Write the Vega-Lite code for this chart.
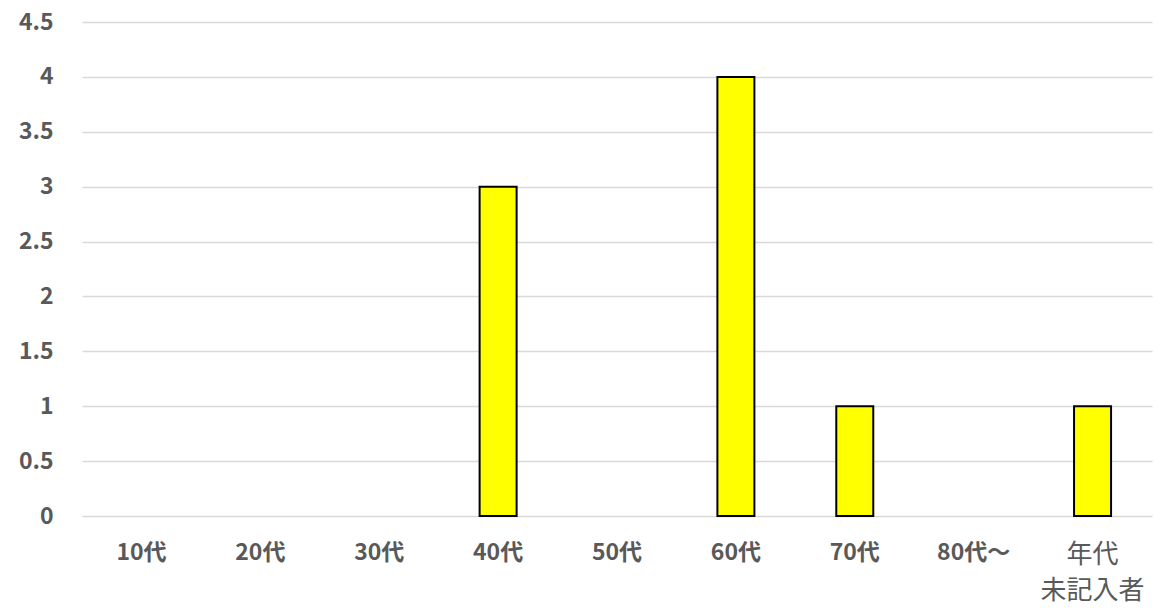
{
  "$schema": "https://vega.github.io/schema/vega-lite/v6.json",
  "width": 1070,
  "height": 494,
  "autosize": {"type": "none"},
  "padding": {"left": 82, "top": 22, "right": 3, "bottom": 93},
  "background": "white",
  "config": {"view": {"stroke": null}},
  "data": {
    "values": [
      {"age": "10代", "count": 0},
      {"age": "20代", "count": 0},
      {"age": "30代", "count": 0},
      {"age": "40代", "count": 3},
      {"age": "50代", "count": 0},
      {"age": "60代", "count": 4},
      {"age": "70代", "count": 1},
      {"age": "80代〜", "count": 0},
      {"age": "年代未記入者", "count": 1}
    ]
  },
  "mark": {"type": "bar", "color": "#ffff00", "stroke": "#000000", "strokeWidth": 2, "width": 37},
  "encoding": {
    "x": {
      "field": "age",
      "type": "nominal",
      "sort": null,
      "scale": {"paddingInner": 0, "paddingOuter": 0},
      "axis": {
        "title": null,
        "labelAngle": 0,
        "domain": false,
        "ticks": false,
        "labelPadding": 25,
        "labelFont": "Noto Sans CJK JP",
        "labelFontSize": {"condition": {"test": "datum.value == '年代未記入者'", "value": 26}, "value": 23},
        "labelFontWeight": {"condition": {"test": "datum.value == '年代未記入者'", "value": "normal"}, "value": "bold"},
        "labelColor": "#595959",
        "labelLineHeight": 36,
        "labelExpr": "datum.value == '年代未記入者' ? ['年代', '未記入者'] : datum.value"
      }
    },
    "y": {
      "field": "count",
      "type": "quantitative",
      "scale": {"domain": [0, 4.5], "nice": false},
      "axis": {
        "title": null,
        "values": [0, 0.5, 1, 1.5, 2, 2.5, 3, 3.5, 4, 4.5],
        "format": "~g",
        "domain": false,
        "ticks": false,
        "grid": true,
        "gridColor": "#d9d9d9",
        "gridWidth": 1.5,
        "labelPadding": 29,
        "labelFont": "Noto Sans CJK JP",
        "labelFontSize": 23,
        "labelFontWeight": "bold",
        "labelColor": "#595959"
      }
    },
    "strokeOpacity": {"condition": {"test": "datum.count == 0", "value": 0}, "value": 1}
  }
}
